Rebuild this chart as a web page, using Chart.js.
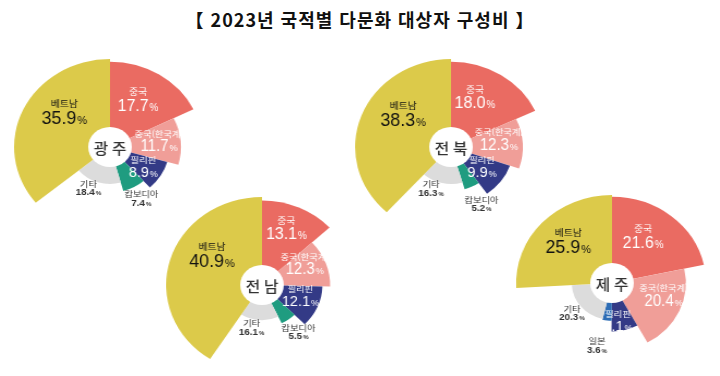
<!DOCTYPE html>
<html lang="ko">
<head>
<meta charset="utf-8">
<script src="https://cdn.jsdelivr.net/npm/chart.js@4.4.0/dist/chart.umd.min.js"></script>
<style>
html, body { margin: 0; padding: 0; background: #fff; }
body { width: 720px; height: 376px; position: relative; overflow: hidden; font-family: "Noto Sans CJK KR", sans-serif; }
#title { position: absolute; left: 0; top: 6px; width: 720px; text-align: center; font-size: 18px; line-height: 26px; font-weight: 700; color: #111; letter-spacing: 1px; }
.box { position: absolute; width: 200px; height: 200px; transform: scaleX(1.09); transform-origin: 100px 100px; }
</style>
</head>
<body>
<div id="title">【 2023년 국적별 다문화 대상자 구성비 】</div>
<div class="box" style="left:10px; top:47px;"><canvas id="gwangju" width="200" height="200"></canvas></div>
<div class="box" style="left:351px; top:47px;"><canvas id="jeonbuk" width="200" height="200"></canvas></div>
<div class="box" style="left:162px; top:185px;"><canvas id="jeonnam" width="200" height="200"></canvas></div>
<div class="box" style="left:512px; top:183px;"><canvas id="jeju" width="200" height="200"></canvas></div>
<script>
// 국적 (12시 방향부터 시계방향)
const nations = ["중국", "중국(한국계)", "필리핀", "캄보디아", "기타", "베트남"];
const nationsJeju = ["중국", "중국(한국계)", "필리핀", "일본", "기타", "베트남"];

// 지역별 구성비 (%)
const gwangju = [17.7, 11.7, 8.9, 7.4, 18.4, 35.9];
const jeonbuk = [18.0, 12.3, 9.9, 5.2, 16.3, 38.3];
const jeonnam = [13.1, 12.3, 12.1, 5.5, 16.1, 40.9];
const jeju = [21.6, 20.4, 8.1, 3.6, 20.3, 25.9];

const colors = ['#EA6B62', '#F09E98', '#333A86', '#1F9C80', '#DCDCDC', '#DCCA4A'];
const colorsJeju = ['#EA6B62', '#F09E98', '#333A86', '#2C6CB5', '#DCDCDC', '#DCCA4A'];

// base label look per slice (color and font sizes)
const labelLook = [
    { color: '#fff', name: 9, num: 17 },
    { color: '#fff', name: 8.5, num: 16 },
    { color: '#fff', name: 8.5, num: 15.5 },
    { color: '#333', name: 8.5, num: 9.5, small: true },
    { color: '#333', name: 8.5, num: 9.5, small: true },
    { color: '#111', name: 9, num: 19 }
];

// where the label sits: at = share along the arc, dist = share of radius, out = px beyond the arc
function placeLabels(places) {
    return labelLook.map((l, i) => Object.assign({}, l, places[i]));
}

const numFont = '"Liberation Sans", Arial, sans-serif';
const krFont = '"Noto Sans CJK KR", sans-serif';

//Doughnut with a different outer radius per slice, center circle and labels
const stepPie = {
    id: 'stepPie',
    afterDatasetsUpdate(chart, args, opts) {
        let meta = chart.getDatasetMeta(0);
        meta.data.forEach((arc, i) => {
            arc.outerRadius = opts.radius * opts.steps[i];
        });
    },
    afterDatasetsDraw(chart, args, opts) {
        let ctx = chart.ctx;
        let meta = chart.getDatasetMeta(0);
        let values = chart.data.datasets[0].data;
        let cx = meta.data[0].x, cy = meta.data[0].y;

        ctx.save();
        //white circle in the middle with region name
        ctx.beginPath();
        ctx.arc(cx, cy, 20, 0, Math.PI * 2);
        ctx.fillStyle = '#fff';
        ctx.fill();
        ctx.fillStyle = '#333';
        ctx.font = '500 14.5px ' + krFont;
        ctx.textAlign = 'center';
        ctx.textBaseline = 'middle';
        ctx.fillText(opts.region.split('').join(' '), cx, cy + 1);

        meta.data.forEach((arc, i) => {
            let l = opts.labels[i];
            let a = arc.startAngle + (arc.endAngle - arc.startAngle) * l.at;
            let d = l.out !== undefined ? arc.outerRadius + l.out : arc.outerRadius * l.dist;
            let x = cx + Math.cos(a) * d;
            let y = cy + Math.sin(a) * d;

            ctx.fillStyle = l.color;
            ctx.textBaseline = 'alphabetic';
            ctx.textAlign = 'center';
            ctx.font = l.name + 'px ' + krFont;
            ctx.fillText(chart.data.labels[i], x, y - 0.2 * l.num);

            //number + smaller %, a bit condensed like the original
            let num = values[i].toFixed(1);
            let weight = l.small ? '700 ' : '';
            let bigFont = weight + l.num + 'px ' + numFont;
            let pctFont = weight + (l.num * 0.62) + 'px ' + numFont;
            ctx.font = bigFont;
            let w1 = ctx.measureText(num).width;
            ctx.font = pctFont;
            let w2 = ctx.measureText('%').width;
            let sx = l.small ? 0.95 : 0.86;
            ctx.save();
            ctx.translate(x, y + 0.7 * l.num);
            ctx.scale(sx, 1);
            let left = -(w1 + w2 + 1) / 2;
            ctx.textAlign = 'left';
            ctx.font = bigFont;
            ctx.fillText(num, left, 0);
            ctx.font = pctFont;
            ctx.fillText('%', left + w1 + 1, 0);
            ctx.restore();
        });
        ctx.restore();
    }
};

function drawRegion(id, region, labels, values, colorList, steps, places) {
    new Chart(document.getElementById(id), {
        type: 'doughnut',
        data: {
            labels: labels,
            datasets: [{
                data: values,
                backgroundColor: colorList,
                borderWidth: 0
            }]
        },
        options: {
            responsive: false,
            animation: false,
            cutout: 0,
            layout: { padding: 0 },
            events: [],
            plugins: {
                legend: { display: false },
                tooltip: { enabled: false },
                stepPie: { region: region, radius: 88, steps: steps, labels: placeLabels(places) }
            }
        },
        plugins: [stepPie]
    });
}

drawRegion('gwangju', '광주', nations, gwangju, colors, [0.97, 0.74, 0.62, 0.52, 0.42, 1], [
    { at: 0.44, dist: 0.64 }, { at: 0.41, dist: 0.7 }, { at: 0.5, dist: 0.66 },
    { at: 0.5, out: 14 }, { at: 0.62, out: 9 }, { at: 0.62, dist: 0.63 }
]);
drawRegion('jeonbuk', '전북', nations, jeonbuk, colors, [0.97, 0.75, 0.65, 0.5, 0.42, 1], [
    { at: 0.36, dist: 0.65 }, { at: 0.32, dist: 0.68 }, { at: 0.42, dist: 0.6 },
    { at: 0.5, out: 20 }, { at: 0.68, out: 9 }, { at: 0.62, dist: 0.63 }
]);
drawRegion('jeonnam', '전남', nations, jeonnam, colors, [0.96, 0.71, 0.63, 0.48, 0.4, 1], [
    { at: 0.45, dist: 0.73 }, { at: 0.31, dist: 0.72 }, { at: 0.33, dist: 0.66 },
    { at: 0.5, out: 16 }, { at: 0.65, out: 9 }, { at: 0.62, dist: 0.63 }
]);
drawRegion('jeju', '제주', nationsJeju, jeju, colorsJeju, [0.98, 0.77, 0.55, 0.43, 0.42, 1], [
    { at: 0.4, dist: 0.64 }, { at: 0.35, dist: 0.72 }, { at: 0.69, dist: 0.77 },
    { at: 0.9, out: 27 }, { at: 0.5, out: 11 }, { at: 0.54, dist: 0.67 }
]);
</script>
</body>
</html>
